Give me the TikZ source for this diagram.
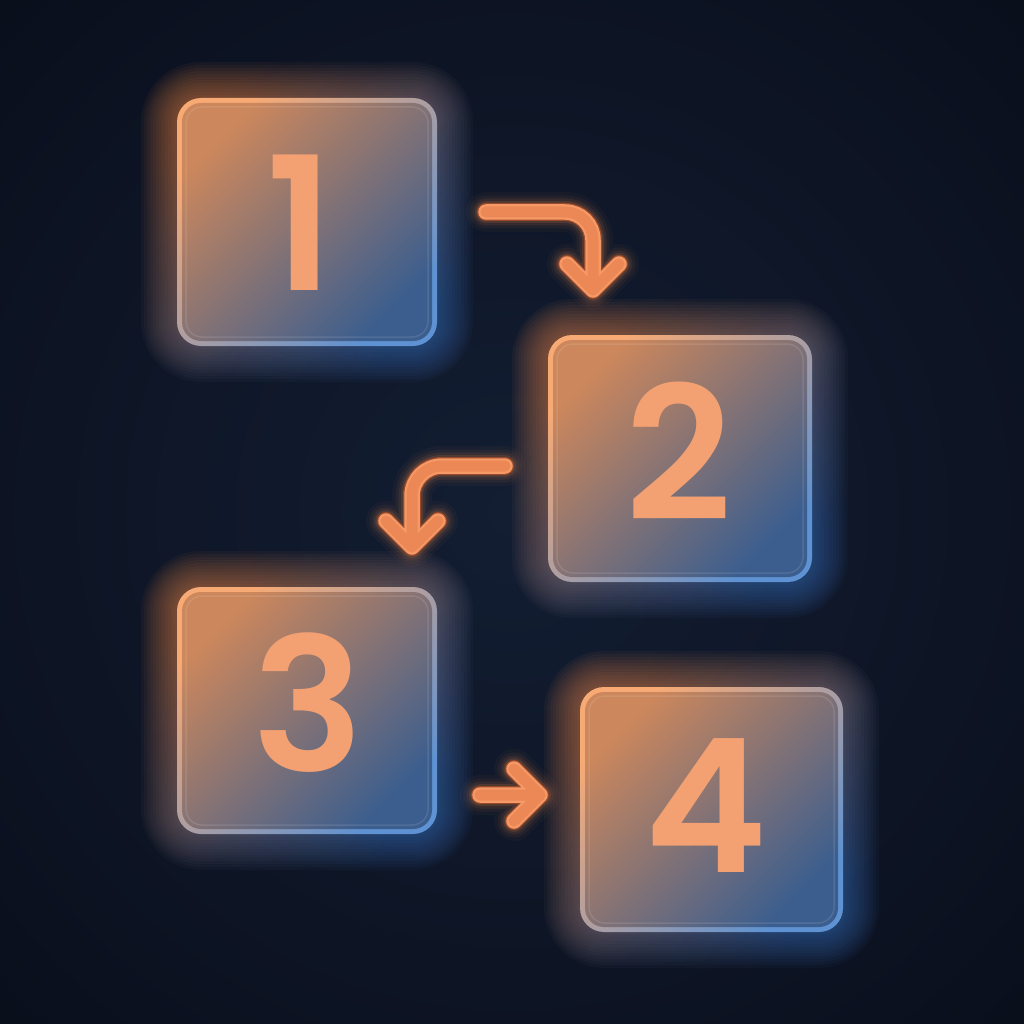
\documentclass[tikz,border=0pt]{standalone}
\usepackage{fontspec}
\newfontfamily\digitfont{Poppins SemiBold}
\usetikzlibrary{calc}
\definecolor{bgin}{HTML}{131E33}
\definecolor{bgout}{HTML}{0A0F1C}
\definecolor{glowO}{HTML}{F08A4A}
\definecolor{glowM}{HTML}{C8805E}
\definecolor{glowB}{HTML}{3F78C8}
\definecolor{bordO}{HTML}{F8AA74}
\definecolor{bordM}{HTML}{E49A7C}
\definecolor{bordB}{HTML}{5E92D2}
\definecolor{fillO}{HTML}{CC875C}
\definecolor{fillM}{HTML}{7A5E63}
\definecolor{fillB}{HTML}{3C5E8E}
\definecolor{digitc}{HTML}{F3A172}
\definecolor{arrFill}{HTML}{EC8756}
\definecolor{arrLight}{HTML}{F59A66}
\definecolor{arrEdge}{HTML}{9A4A2C}
\tikzset{
  digit/.style={font=\digitfont\fontsize{186}{186}\selectfont, inner sep=0pt, anchor=base, text=digitc},
  arrowglow/.style={color=glowO, line cap=round, line join=round},
  arrowline/.style={line cap=round, line join=round},
}
\newcommand\mkstep[8]{%
  \foreach \r [evaluate=\r as \rc using 24+\r] in {36,33,...,1}{%
    \shade[top color=glowO, middle color=glowM, bottom color=glowB, shading angle=45, fill opacity=0.05, rounded corners=\rc pt] (#2-\r,#3-\r) rectangle (#4+\r,#5+\r);
  }
  \shade[top color=bordO, middle color=bordM, bottom color=bordB, shading angle=45, rounded corners=24pt] (#2,#3) rectangle (#4,#5);
  \shade[top color=fillO, middle color=fillM, bottom color=fillB, shading angle=45, rounded corners=19pt] (#2+5,#3+5) rectangle (#4-5,#5-5);
  \draw[white, opacity=0.10, line width=1.5, rounded corners=16pt] (#2+9,#3+9) rectangle (#4-9,#5-9);
  \node[digit] (#1) at (#7,#8) {#6};
}
\newcommand\glowline[1]{%
  \foreach \w/\o in {40/0.04,33/0.06,27/0.09,22/0.14}{\draw[arrowglow, line width=\w, opacity=\o] #1;}
  \draw[arrowline, line width=18, color=arrEdge] #1;
  \draw[arrowline, line width=15.5, color=arrLight] #1;
  \draw[arrowline, line width=11, color=arrFill] #1;
}
\begin{document}
\begin{tikzpicture}[x=1pt,y=-1pt]
\useasboundingbox (0,0) rectangle (1024,1024);
\shade[inner color=bgin, outer color=bgout] (-200,-200) rectangle (1224,1224);

\mkstep{b1}{177}{98}{437}{346}{1}{300}{290}
\mkstep{b2}{548}{335}{812}{582}{2}{679}{520}
\mkstep{b3}{177}{587}{437}{834}{3}{308}{771}
\mkstep{b4}{580}{687}{843}{932}{4}{706}{872}

% arrow 1 -> 2
\coordinate (a1s) at (486,212);
\coordinate (a1k) at (593,212);
\coordinate (a1e) at (593,290);
\coordinate (a1l) at (567,264);
\coordinate (a1r) at (619,264);
\glowline{(a1s) [rounded corners=28pt] -- (a1k) -- (a1e) [sharp corners] (a1l) -- (a1e) -- (a1r)}

% arrow 2 -> 3
\coordinate (a2s) at (505,466);
\coordinate (a2k) at (412,466);
\coordinate (a2e) at (412,547);
\coordinate (a2l) at (386,521);
\coordinate (a2r) at (438,521);
\glowline{(a2s) [rounded corners=30pt] -- (a2k) -- (a2e) [sharp corners] (a2l) -- (a2e) -- (a2r)}

% arrow 3 -> 4
\coordinate (a3s) at (480,795);
\coordinate (a3e) at (540,795);
\coordinate (a3l) at (514,769);
\coordinate (a3r) at (514,821);
\glowline{(a3s) -- (a3e) (a3l) -- (a3e) -- (a3r)}
\end{tikzpicture}
\end{document}
